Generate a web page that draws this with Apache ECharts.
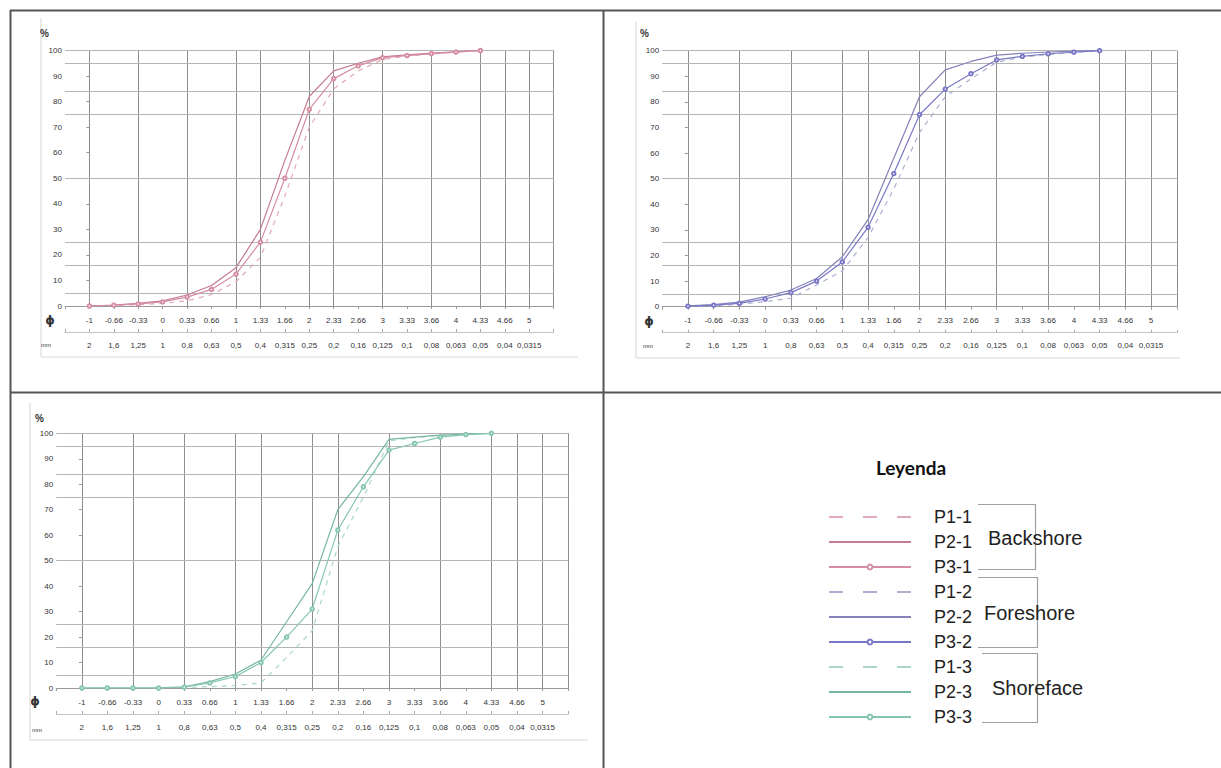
<!DOCTYPE html>
<html><head><meta charset="utf-8">
<script src="https://cdn.jsdelivr.net/npm/echarts@6/dist/echarts.min.js"></script>
<style>html,body{margin:0;padding:0;background:#fff}#c{width:1221px;height:768px}</style>
</head><body><div id="c"></div>
<script>
// ---- tick labels ----
const phiLabels = ['-1','-0.66','-0.33','0','0.33','0.66','1','1.33','1.66','2','2.33','2.66','3','3.33','3.66','4','4.33','4.66','5'];
const mmLabels = ['2','1,6','1,25','1','0,8','0,63','0,5','0,4','0,315','0,25','0,2','0,16','0,125','0,1','0,08','0,063','0,05','0,04','0,0315'];
// vertical grid lines (index into phiLabels) and horizontal percent lines
const sieveIdx = [0,2,4,6,7,9,10,12,14,16,17,18,19];
const pctLines = [5,16,25,50,75,84,95,100];
// sample positions (index into phiLabels) for every curve
const samplePos = [0,1,2,3,4,5,6,7,8,9,10,11,12,13,14,15,16];
// ---- Backshore ----
const p1_1 = [0,0.2,0.5,1,2,4.5,9.5,19,43,70,85,92,96.5,97.8,98.7,99.3,100];
const p2_1 = [0,0.4,1,2,4.3,8,15,30,57,82,92,95,97.5,98.3,99,99.5,100];
const p3_1 = [0,0.3,0.8,1.6,3.5,6.5,12.5,25,50,77,89,94,97.2,98,98.8,99.4,100];
// ---- Foreshore ----
const p1_2 = [0.1,0.4,1,2,3.3,8.5,14,27,46,68,82,89,95.5,97.5,98.5,99.3,100];
const p2_2 = [0.3,0.8,1.8,3.9,6.5,11,19.5,34,58,82,92.5,95.8,98.3,99,99.5,99.8,100];
const p3_2 = [0.2,0.6,1.3,3,5.5,10,17.5,31,52,75,85,91,96.4,97.8,98.8,99.4,100];
// ---- Shoreface ----
const p1_3 = [0,0,0,0,0.2,0.5,1,2,12,22.5,55.5,75,97,98.3,99.2,99.6,100];
const p2_3 = [0,0,0,0.1,0.5,2.5,5.5,11,26,41,70,83,97.6,98.5,99.3,99.7,100];
const p3_3 = [0,0,0,0,0.3,2,4.5,10,20,31,62,79,93.4,96,98.5,99.5,100];

const names = [['P1-1','P2-1','P3-1'],['P1-2','P2-2','P3-2'],['P1-3','P2-3','P3-3']];
const values = [[p1_1,p2_1,p3_1],[p1_2,p2_2,p3_2],[p1_3,p2_3,p3_3]];
const colors = [['#e2a9b8','#c47a90','#d68ea2'],['#b0aed0','#8482b8','#7a78c6'],['#a9d6c8','#76b6a6','#86c6b0']];

const grids = [
  {left:64.9, top:50.5, width:488.8, height:255.5},
  {left:662.2, top:50.7, width:514.6, height:256},
  {left:56.2, top:433.3, width:512, height:254.7}
];
const FONT = 'Liberation Sans, Arial, sans-serif';
const xAxes = [], yAxes = [], series = [];
grids.forEach((g, gi) => {
  xAxes.push({gridIndex:gi, type:'value', min:-1, max:19, interval:1,
    axisLine:{show:true, onZero:false, lineStyle:{color:'#9a9a9a', width:1}},
    axisTick:{show:true, length:3, lineStyle:{color:'#9a9a9a'}},
    axisLabel:{fontSize:8, color:'#333', margin:10, fontFamily:FONT,
      formatter: v => (phiLabels[Math.round(v)] !== undefined && Math.abs(v-Math.round(v))<1e-6) ? phiLabels[Math.round(v)] : ''},
    splitLine:{show:false}});
  xAxes.push({gridIndex:gi, type:'value', min:-1, max:19, interval:1, position:'bottom', offset:26,
    axisLine:{show:true, onZero:false, lineStyle:{color:'#c4c4c4', width:1}},
    axisTick:{show:true, inside:true, length:3, lineStyle:{color:'#aaa'}},
    axisLabel:{fontSize:8, color:'#333', margin:9, fontFamily:FONT,
      formatter: v => (mmLabels[Math.round(v)] !== undefined && Math.abs(v-Math.round(v))<1e-6) ? mmLabels[Math.round(v)] : ''},
    splitLine:{show:false}});
  yAxes.push({gridIndex:gi, type:'value', min:0, max:100, interval:10,
    axisLine:{show:true, lineStyle:{color:'#b0b0b0'}},
    axisTick:{show:true, length:3, lineStyle:{color:'#999'}},
    axisLabel:{fontSize:8, color:'#333', margin:3, fontFamily:FONT},
    splitLine:{show:false}});
  // grid lines helper
  series.push({type:'line', name:'grid'+gi, xAxisIndex:gi*2, yAxisIndex:gi, data:[[-1,0]],
    symbol:'none', lineStyle:{opacity:0}, silent:true, z:1,
    markLine:{silent:true, symbol:['none','none'], label:{show:false}, animation:false, z:1,
      data: sieveIdx.map(i => ({xAxis:i, lineStyle:{color:'#8e8e8e', width:1, type:'solid'}}))
        .concat(pctLines.map(v => ({yAxis:v, lineStyle:{color:'#b4b4b4', width:1, type:'solid'}})))}});
  names[gi].forEach((nm, si) => {
    const s = {type:'line', name:nm, xAxisIndex:gi*2, yAxisIndex:gi, z:10,
      data: samplePos.map((p, k) => [p, values[gi][si][k]]),
      lineStyle:{color:colors[gi][si], width:1.2, type: si===0 ? [5,5] : 'solid'},
      itemStyle:{color:colors[gi][si]},
      symbol: 'emptyCircle', symbolSize:3.5, showSymbol: si===2,
      animation:false};
    series.push(s);
  });
});

const legendData = [];
names.forEach((grp, gi) => grp.forEach((nm, si) => {
  const d = {name:nm};
  if (si===0) d.lineStyle = {type:[14,20]};
  if (si!==2) d.itemStyle = {opacity:0};
  legendData.push(d);
}));

const txt = (x, y, text, size, extra) => ({type:'text', x, y, silent:true,
  style:Object.assign({text, fontSize:size, fill:'#333', fontFamily:FONT, textAlign:'left', textVerticalAlign:'middle'}, extra||{})});
const line = (pts, color, w) => ({type:'polyline', silent:true, shape:{points:pts}, style:{stroke:color, lineWidth:w, fill:null}});

const graphic = [
  // outer panel lines
  line([[10,10.5],[1221,10.5]], '#555', 2),
  line([[10.5,10],[10.5,768]], '#555', 2),
  line([[603.5,10],[603.5,768]], '#555', 2),
  line([[10,392.5],[1221,392.5]], '#555', 2),
  // faint chart frames
  line([[41,18],[41,357],[578,357]], '#d6d6d6', 1),
  line([[636,22],[636,358],[1180,358]], '#d6d6d6', 1),
  line([[30,403],[30,740],[588,740]], '#d6d6d6', 1),
  // axis captions
  txt(40, 33, '%', 10, {fontWeight:'bold'}),
  txt(640, 33, '%', 10, {fontWeight:'bold'}),
  txt(35, 418, '%', 10, {fontWeight:'bold'}),
  txt(50, 320, 'ϕ', 12, {textAlign:'center', fontFamily:'DejaVu Sans', fontWeight:'bold'}),
  txt(649, 321, 'ϕ', 12, {textAlign:'center', fontFamily:'DejaVu Sans', fontWeight:'bold'}),
  txt(35, 701, 'ϕ', 12, {textAlign:'center', fontFamily:'DejaVu Sans', fontWeight:'bold'}),
  txt(46, 345, 'mm', 6, {textAlign:'center'}),
  txt(648, 346, 'mm', 6, {textAlign:'center'}),
  txt(37, 730, 'mm', 6, {textAlign:'center'}),
  // legend panel
  txt(911, 467, 'Leyenda', 19, {textAlign:'center', fontWeight:'bold', fill:'#111', fontFamily:'Lato, Liberation Sans, sans-serif'}),
  line([[978,504.5],[1035.5,504.5],[1035.5,569.5],[978,569.5]], '#a0a0a0', 1.2),
  line([[978,577.5],[1037.5,577.5],[1037.5,647.5],[978,647.5]], '#a0a0a0', 1.2),
  line([[982,653.5],[1037.5,653.5],[1037.5,722.5],[982,722.5]], '#a0a0a0', 1.2),
  txt(988, 538, 'Backshore', 20, {fill:'#222'}),
  txt(984, 613, 'Foreshore', 20, {fill:'#222'}),
  txt(992, 688, 'Shoreface', 20, {fill:'#222'})
];

const chart = echarts.init(document.getElementById('c'), null, {renderer:'svg'});
chart.setOption({
  backgroundColor:'#fff',
  animation:false,
  grid: grids,
  xAxis: xAxes,
  yAxis: yAxes,
  series: series,
  legend: {orient:'vertical', left:823, top:503, itemWidth:82, itemHeight:6, itemGap:7,
    selectedMode:false, data:legendData,
    textStyle:{fontSize:18, lineHeight:18, color:'#222', fontFamily:FONT, padding:[0,0,0,18]}},
  graphic: graphic
});
</script></body></html>
